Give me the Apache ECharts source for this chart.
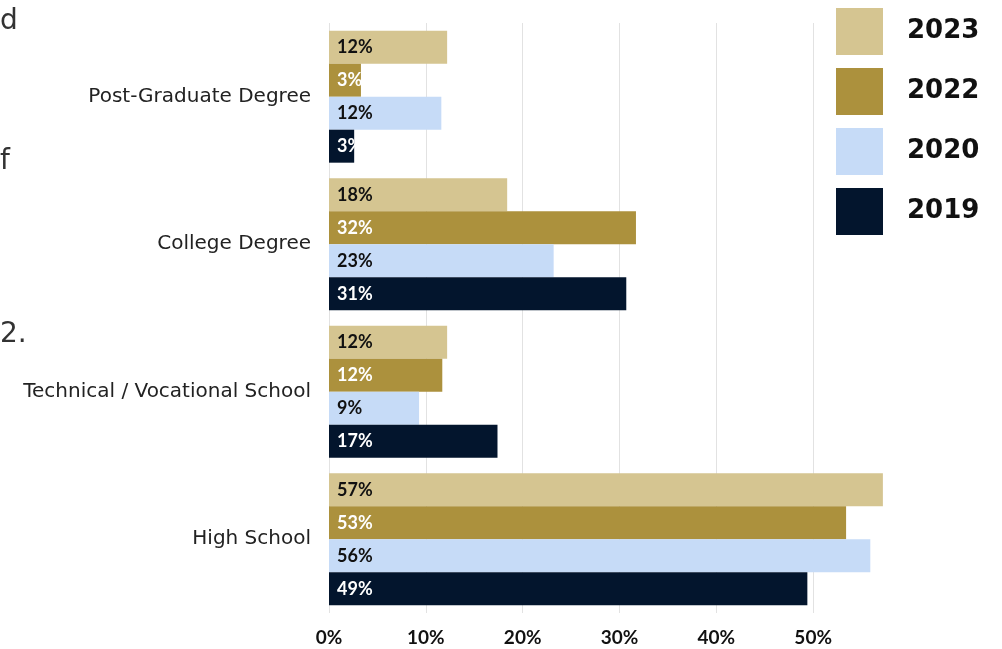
<!DOCTYPE html>
<html>
<head>
<meta charset="utf-8">
<script src="https://cdn.jsdelivr.net/npm/echarts@6/dist/echarts.min.js"></script>
<style>
  html, body { margin: 0; padding: 0; background: #fff; }
  #chart { width: 1002px; height: 649px; }
</style>
</head>
<body>
<div id="chart"></div>
<script>
// Education level by survey year (share of respondents, %)
const categories = ['Post-Graduate Degree', 'College Degree', 'Technical / Vocational School', 'High School'];
const years = ['2023', '2022', '2020', '2019'];
const values2023 = [12.2, 18.4, 12.2, 57.2];
const values2022 = [3.3, 31.7, 11.7, 53.4];
const values2020 = [11.6, 23.2, 9.3, 55.9];
const values2019 = [2.6, 30.7, 17.4, 49.4];

const seriesValues = [values2023, values2022, values2020, values2019];
const barColors = ['#D5C591', '#AC913D', '#C6DBF7', '#03152D'];
const labelColors = ['#111111', '#ffffff', '#111111', '#ffffff'];

const TEXT_FONT = 'DejaVu Sans';
const NUM_FONT = 'Lato';

const chart = echarts.init(document.getElementById('chart'), null, { renderer: 'canvas' });

chart.setOption({
  animation: false,
  backgroundColor: '#ffffff',
  textStyle: { fontFamily: TEXT_FONT },
  grid: { left: 329, right: 92, top: 23, bottom: 36, containLabel: false },
  legend: {
    data: years,
    orient: 'vertical',
    left: 836,
    top: 8,
    padding: 0,
    itemWidth: 47,
    itemHeight: 47,
    itemGap: 13,
    icon: 'rect',
    selectedMode: false,
    z: 30,
    textStyle: { fontFamily: TEXT_FONT, fontSize: 26, fontWeight: 'bold', color: '#111', padding: [2, 0, 0, 19] }
  },
  xAxis: {
    type: 'value',
    min: 0,
    max: 60,
    interval: 10,
    axisLine: { show: false },
    axisTick: { show: false },
    splitLine: { lineStyle: { color: '#e2e2e2', width: 1 } },
    axisLabel: {
      formatter: '{value}%',
      margin: 15,
      fontFamily: NUM_FONT,
      fontSize: 19,
      fontWeight: 'bold',
      color: '#111'
    }
  },
  yAxis: {
    type: 'category',
    data: categories,
    inverse: true,
    axisLine: { show: false },
    axisTick: { show: false },
    axisLabel: { margin: 18, padding: [4, 0, 0, 0], fontFamily: TEXT_FONT, fontSize: 20, color: '#222' }
  },
  series: years.map((y, i) => ({
    name: y,
    type: 'bar',
    data: seriesValues[i],
    barGap: '0%',
    barCategoryGap: '10.6%',
    itemStyle: { color: barColors[i] },
    label: {
      show: true,
      position: 'insideLeft',
      distance: 8,
      formatter: p => Math.round(p.value) + '%',
      fontFamily: NUM_FONT,
      fontSize: 18,
      fontWeight: 'bold',
      color: labelColors[i]
    }
  })),
  graphic: [
    // panel edge on the right
    { type: 'rect', left: 892, top: 0, z: 10, shape: { width: 120, height: 649 }, style: { fill: '#ffffff' } },
    // line endings of the adjacent text column
    { type: 'text', left: 0, top: 8, z: 10, style: { text: 'd', font: '28px "DejaVu Sans"', fill: '#333' } },
    { type: 'text', left: 0, top: 148, z: 10, style: { text: 'f', font: '28px "DejaVu Sans"', fill: '#333' } },
    { type: 'text', left: 0, top: 321, z: 10, style: { text: '2.', font: '28px "DejaVu Sans"', fill: '#333' } }
  ]
});
</script>
</body>
</html>
